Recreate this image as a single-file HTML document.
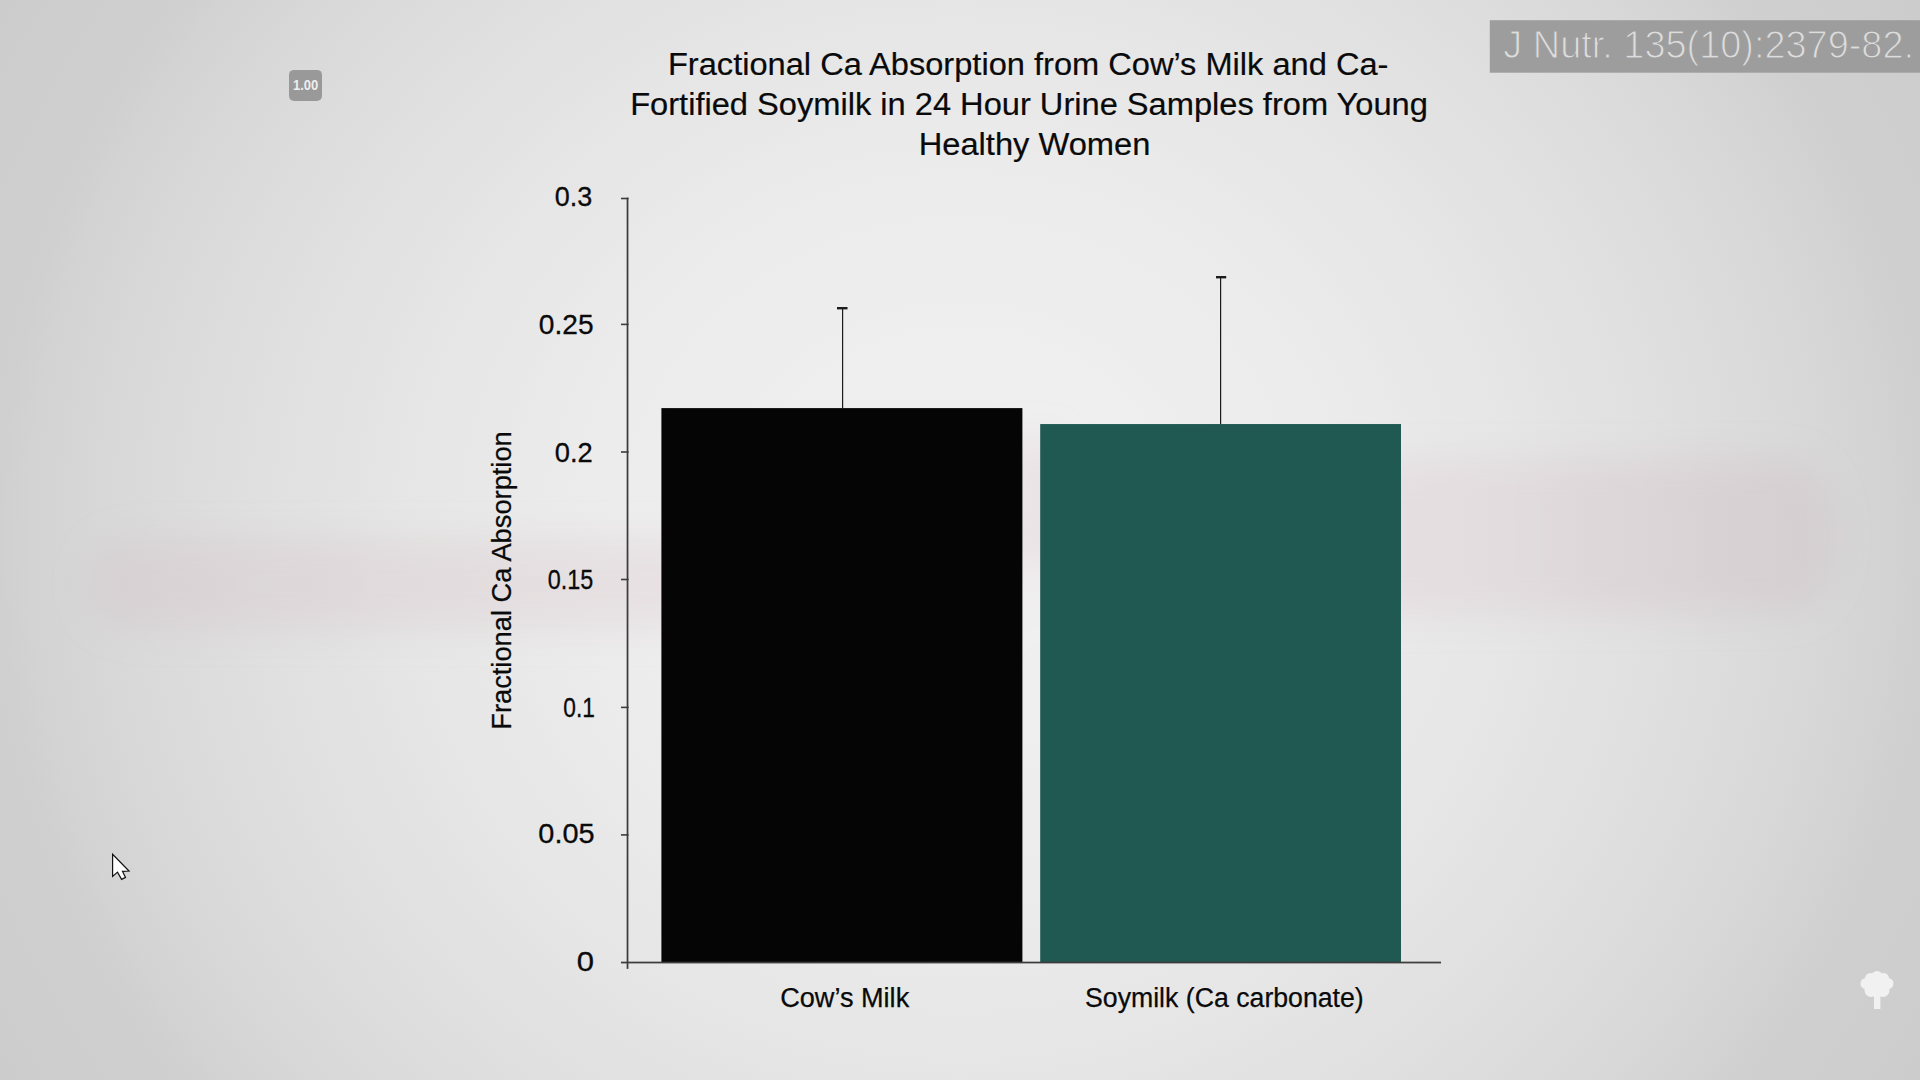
<!DOCTYPE html>
<html lang="en">
<head>
<meta charset="utf-8">
<title>Fractional Ca Absorption</title>
<style>
html,body{margin:0;padding:0;width:1920px;height:1080px;overflow:hidden;background:#dcdcdc;}
body{position:relative;font-family:"Liberation Sans",Arial,sans-serif;}
svg{position:absolute;left:0;top:0;display:block;}
text{font-family:"Liberation Sans",Arial,sans-serif;}
</style>
</head>
<body>
<svg width="1920" height="1080" viewBox="0 0 1920 1080">
  <defs>
<radialGradient id="bgG" gradientUnits="userSpaceOnUse" cx="960" cy="540" r="1200" gradientTransform="translate(960 540) scale(1 0.9434) translate(-960 -540)">
<stop offset="0.0000" stop-color="#f0f0f0"/>
<stop offset="0.0333" stop-color="#f0f0f0"/>
<stop offset="0.0667" stop-color="#f0f0f0"/>
<stop offset="0.1000" stop-color="#f0f0f0"/>
<stop offset="0.1333" stop-color="#efefef"/>
<stop offset="0.1667" stop-color="#efefef"/>
<stop offset="0.2000" stop-color="#eeeeee"/>
<stop offset="0.2333" stop-color="#ededed"/>
<stop offset="0.2667" stop-color="#ededed"/>
<stop offset="0.3000" stop-color="#ececec"/>
<stop offset="0.3333" stop-color="#ebebeb"/>
<stop offset="0.3667" stop-color="#eaeaea"/>
<stop offset="0.4000" stop-color="#e8e8e8"/>
<stop offset="0.4333" stop-color="#e7e7e7"/>
<stop offset="0.4667" stop-color="#e6e6e6"/>
<stop offset="0.5000" stop-color="#e4e4e4"/>
<stop offset="0.5333" stop-color="#e2e2e2"/>
<stop offset="0.5667" stop-color="#e1e1e1"/>
<stop offset="0.6000" stop-color="#dfdfdf"/>
<stop offset="0.6333" stop-color="#dddddd"/>
<stop offset="0.6667" stop-color="#dbdbdb"/>
<stop offset="0.7000" stop-color="#d9d9d9"/>
<stop offset="0.7500" stop-color="#d5d5d5"/>
<stop offset="0.7750" stop-color="#d3d3d3"/>
<stop offset="0.8000" stop-color="#d0d0d0"/>
<stop offset="0.8333" stop-color="#cfcfcf"/>
<stop offset="0.8750" stop-color="#cecece"/>
<stop offset="0.9333" stop-color="#cccccc"/>
<stop offset="1.0000" stop-color="#cacaca"/>
</radialGradient>
    <linearGradient id="bandG" gradientUnits="userSpaceOnUse" x1="90" y1="0" x2="1830" y2="0">
      <stop offset="0" stop-color="#d2c2c8"/>
      <stop offset="0.12" stop-color="#d6c4ca"/>
      <stop offset="0.35" stop-color="#dccacf"/>
      <stop offset="0.6" stop-color="#e2c8d0"/>
      <stop offset="0.78" stop-color="#dccad0"/>
      <stop offset="0.9" stop-color="#d2bec5"/>
      <stop offset="1" stop-color="#cdbbc2"/>
    </linearGradient>
    <filter id="bandBlur" filterUnits="userSpaceOnUse" x="-100" y="300" width="2120" height="500">
      <feGaussianBlur stdDeviation="17"/>
    </filter>
  </defs>
<rect width="1920" height="1080" fill="url(#bgG)"/>
  <path d="M145 538 L1005 538 L1005 630 L145 630 Q88 630 88 584 Q88 538 145 538 Z M1005 438 L1058 438 L1058 566 L1005 566 Z M1058 462 L1775 458 Q1835 458 1835 536 Q1835 614 1775 614 L1058 618 Z" fill="url(#bandG)" fill-opacity="0.33" filter="url(#bandBlur)"/>

  <!-- citation box and speed badge -->
  <rect x="1489.8" y="20.2" width="431" height="52.5" fill="#9d9d9d"/>
  <rect x="289" y="69.9" width="33" height="31.1" rx="5" ry="5" fill="#999999"/>

  <!-- title -->
  <g fill="#0a0a0a" stroke="#0a0a0a" stroke-width="0.2" font-size="31">
    <text x="667.95" y="74.6" textLength="720.5" lengthAdjust="spacingAndGlyphs">Fractional Ca Absorption from Cow’s Milk and Ca-</text>
    <text x="630.15" y="114.75" textLength="797.75" lengthAdjust="spacingAndGlyphs">Fortified Soymilk in 24 Hour Urine Samples from Young</text>
    <text x="918.65" y="154.7" textLength="231.75" lengthAdjust="spacingAndGlyphs">Healthy Women</text>
  </g>
  <!-- bars -->
  <rect x="661.4" y="408.1" width="361" height="554.5" fill="#050505"/>
  <rect x="1040.2" y="424.05" width="360.8" height="538.55" fill="#205952"/>
  <!-- axes -->
  <g fill="#3c3c3c">
    <rect x="626.65" y="197.7" width="1.75" height="771.2"/>
    <rect x="621" y="961.65" width="820" height="1.75"/>
    <rect x="621" y="197.7" width="7.6" height="1.6"/>
    <rect x="621" y="323.6" width="7.6" height="1.6"/>
    <rect x="621" y="451.2" width="7.6" height="1.6"/>
    <rect x="621" y="578.7" width="7.6" height="1.6"/>
    <rect x="621" y="706.6" width="7.6" height="1.6"/>
    <rect x="621" y="834.1" width="7.6" height="1.6"/>
  </g>
  <!-- error bars -->
  <g fill="#1c1c1c">
    <rect x="842" y="308" width="1.2" height="100"/>
    <rect x="837" y="307" width="10.5" height="2.4"/>
    <rect x="1220" y="277" width="1.2" height="147"/>
    <rect x="1216" y="276" width="10.2" height="2.4"/>
  </g>
  <!-- tick labels -->
  <g fill="#0a0a0a" stroke="#0a0a0a" stroke-width="0.3" font-size="27.3">
    <text x="554.7" y="206.4" textLength="37.5" lengthAdjust="spacingAndGlyphs">0.3</text>
    <text x="538.8" y="334.2" textLength="54.75" lengthAdjust="spacingAndGlyphs">0.25</text>
    <text x="554.7" y="461.7" textLength="38.0" lengthAdjust="spacingAndGlyphs">0.2</text>
    <text x="547.75" y="589.2" textLength="45.5" lengthAdjust="spacingAndGlyphs">0.15</text>
    <text x="563.3" y="717.0" textLength="31.6" lengthAdjust="spacingAndGlyphs">0.1</text>
    <text x="538.35" y="843.3" textLength="56.25" lengthAdjust="spacingAndGlyphs">0.05</text>
    <text x="576.65" y="970.7" textLength="17.25" lengthAdjust="spacingAndGlyphs">0</text>
  </g>
  <!-- axis title -->
  <text transform="translate(510.6 727.5) rotate(-90)" x="-2.25" y="0" font-size="27" fill="#0a0a0a" stroke="#0a0a0a" stroke-width="0.25" textLength="298.5" lengthAdjust="spacingAndGlyphs">Fractional Ca Absorption</text>
  <!-- x labels -->
  <g fill="#0a0a0a" stroke="#0a0a0a" stroke-width="0.25" font-size="26.8">
    <text x="780.2" y="1006.5" textLength="129.0" lengthAdjust="spacingAndGlyphs">Cow’s Milk</text>
    <text x="1085.0" y="1006.5" textLength="278.75" lengthAdjust="spacingAndGlyphs">Soymilk (Ca carbonate)</text>
  </g>
  <!-- citation -->
  <text x="1503.3" y="58.25" font-size="38.8" fill="#dddddd" stroke="#9d9d9d" stroke-width="1.1" textLength="410.75" lengthAdjust="spacingAndGlyphs">J Nutr. 135(10):2379-82.</text>
  <!-- badge -->
  <text x="293.05" y="90.0" font-size="14" font-weight="bold" fill="#eeeeee" textLength="25.25" lengthAdjust="spacingAndGlyphs">1.00</text>
  <!-- cursor -->
  <path d="M112.6 854.3 L112.6 876.4 L117.5 872.1 L121.6 879.4 L125.5 877.4 L122.5 871.3 L129.0 871.0 Z" fill="#ffffff" stroke="#111" stroke-width="1.2" stroke-linejoin="miter"/>
  <!-- logo -->
  <g fill="#f1f1f1">
    <rect x="1874" y="994" width="6.4" height="15"/>
    <circle cx="1877" cy="977" r="6"/>
    <circle cx="1870.5" cy="978.5" r="5.5"/>
    <circle cx="1883.5" cy="978.5" r="5.5"/>
    <circle cx="1866" cy="983.5" r="5.5"/>
    <circle cx="1888" cy="983.5" r="5.5"/>
    <circle cx="1871" cy="990.5" r="6.5"/>
    <circle cx="1883" cy="990.5" r="6.5"/>
    <circle cx="1877" cy="985" r="8"/>
    <circle cx="1877" cy="992" r="4"/>
  </g>
</svg>
</body>
</html>
